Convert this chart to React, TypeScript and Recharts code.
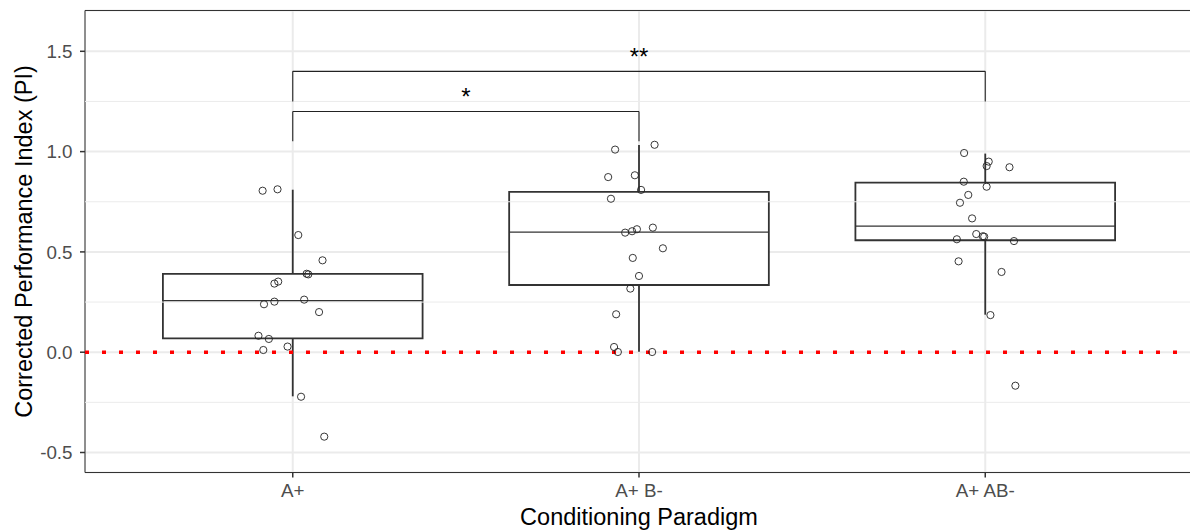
import React from 'react';
import {
  ComposedChart,
  XAxis,
  YAxis,
  CartesianGrid,
  Scatter,
  ReferenceArea,
  ReferenceLine,
  ReferenceDot,
} from 'recharts';

// ---------- data ----------
const categories = ['A+', 'A+ B-', 'A+ AB-'];
const categoryPos = [1, 2, 3];

// jittered points (x position, corrected PI)
const aPlusX = [0.913, 0.956, 1.016, 1.086, 1.04, 1.045, 0.947, 0.958, 0.917, 0.947, 1.033, 1.076, 0.901, 0.931, 0.915, 0.985, 1.024, 1.091];
const aPlusY = [0.805, 0.812, 0.584, 0.458, 0.391, 0.388, 0.342, 0.352, 0.239, 0.252, 0.262, 0.2, 0.082, 0.066, 0.011, 0.028, -0.222, -0.421];

const aPlusBMinusX = [1.931, 2.045, 1.911, 1.988, 2.006, 1.919, 1.96, 1.98, 1.994, 2.04, 2.069, 1.982, 2.0, 1.975, 1.934, 1.928, 1.939, 2.038];
const aPlusBMinusY = [1.01, 1.034, 0.873, 0.882, 0.809, 0.765, 0.596, 0.603, 0.613, 0.621, 0.518, 0.47, 0.38, 0.317, 0.189, 0.026, 0.001, 0.001];

const aPlusABMinusX = [2.939, 3.01, 3.004, 3.07, 2.938, 3.004, 2.951, 2.927, 2.962, 2.974, 2.993, 2.997, 2.918, 3.083, 2.923, 3.047, 3.015, 3.087];
const aPlusABMinusY = [0.993, 0.95, 0.928, 0.922, 0.85, 0.825, 0.784, 0.745, 0.667, 0.589, 0.578, 0.576, 0.563, 0.554, 0.453, 0.4, 0.185, -0.167];

// box statistics per category
const whiskerLow = [-0.22, 0.002, 0.187];
const quartile1 = [0.069, 0.335, 0.558];
const medians = [0.257, 0.599, 0.628];
const quartile3 = [0.39, 0.799, 0.845];
const whiskerHigh = [0.81, 1.033, 0.99];
const boxHalfWidth = 0.375;

// significance brackets
const bracketStart = [1, 1];
const bracketEnd = [2, 3];
const bracketLegLow = [1.052, 1.25];
const bracketTop = [1.2, 1.4];
const bracketLabel = ['*', '**'];
const bracketLabelY = [1.273, 1.472];

// axes
const yTicks = [-0.5, 0, 0.5, 1, 1.5];
const yMinorTicks = [-0.25, 0.25, 0.75, 1.25];
const yDomain: [number, number] = [-0.5997, 1.7034];
const xDomain: [number, number] = [0.4, 3.6];

const points = [
  ...aPlusX.map((x, i) => ({ x, y: aPlusY[i] })),
  ...aPlusBMinusX.map((x, i) => ({ x, y: aPlusBMinusY[i] })),
  ...aPlusABMinusX.map((x, i) => ({ x, y: aPlusABMinusY[i] })),
];

const BOX = '#333333';
const FONT = '"Liberation Sans", Arial, Helvetica, sans-serif';

const OpenCircle = (p: any) => (
  <circle cx={p.cx} cy={p.cy} r={3.6} fill="none" stroke="#222222" strokeWidth={0.9} />
);

const YTitle = (props: any) => {
  const vb = props.viewBox || { x: 0, y: 0, width: 0, height: 0 };
  const cx = vb.x + 31.5;
  const cy = vb.y + vb.height / 2;
  return (
    <text
      x={cx}
      y={cy}
      transform={`rotate(-90, ${cx}, ${cy})`}
      textAnchor="middle"
      fontSize={23.5}
      fill="#000000"
      fontFamily={FONT}
    >
      Corrected Performance Index (PI)
    </text>
  );
};

const XTitle = (props: any) => {
  const vb = props.viewBox || { x: 0, y: 0, width: 0, height: 0 };
  return (
    <text
      x={vb.x + vb.width / 2}
      y={vb.y + 52.5}
      textAnchor="middle"
      fontSize={23.5}
      fill="#000000"
      fontFamily={FONT}
    >
      Conditioning Paradigm
    </text>
  );
};

export default function App() {
  return (
    <div
      style={{
        position: 'absolute',
        left: 0,
        top: 0,
        width: 1190,
        height: 532,
        overflow: 'hidden',
        background: '#ffffff',
        fontFamily: FONT,
      }}
    >
      <ComposedChart
        width={1200}
        height={532}
        margin={{ top: 10.5, right: 7, bottom: 0, left: 0 }}
      >
        <CartesianGrid stroke="#EBEBEB" strokeWidth={2} />
        <XAxis
          type="number"
          dataKey="x"
          domain={xDomain}
          allowDataOverflow
          ticks={categoryPos}
          tickFormatter={(v: number) => categories[categoryPos.indexOf(v)] ?? ''}
          height={59.5}
          axisLine={false}
          tickLine={{ stroke: BOX, strokeWidth: 1.5 }}
          tickSize={5}
          tickMargin={6.5}
          tick={{ fill: '#4D4D4D', fontSize: 18.8, fontFamily: FONT }}
          label={XTitle}
        />
        <YAxis
          type="number"
          dataKey="y"
          domain={yDomain}
          allowDataOverflow
          ticks={yTicks}
          tickFormatter={(v: number) => v.toFixed(1)}
          width={85}
          axisLine={false}
          tickLine={{ stroke: BOX, strokeWidth: 1.5 }}
          tickSize={5}
          tickMargin={7.5}
          tick={{ fill: '#4D4D4D', fontSize: 18.8, fontFamily: FONT }}
          label={YTitle}
        />

        {yMinorTicks.map((v) => (
          <ReferenceLine key={`minor-${v}`} y={v} stroke="#EBEBEB" strokeWidth={1} />
        ))}

        {categoryPos.map((c, i) => (
          <ReferenceLine
            key={`wlo-${c}`}
            segment={[{ x: c, y: whiskerLow[i] }, { x: c, y: quartile1[i] }]}
            stroke={BOX}
            strokeWidth={1.8}
          />
        ))}
        {categoryPos.map((c, i) => (
          <ReferenceLine
            key={`whi-${c}`}
            segment={[{ x: c, y: quartile3[i] }, { x: c, y: whiskerHigh[i] }]}
            stroke={BOX}
            strokeWidth={1.8}
          />
        ))}
        {categoryPos.map((c, i) => (
          <ReferenceArea
            key={`box-${c}`}
            x1={c - boxHalfWidth}
            x2={c + boxHalfWidth}
            y1={quartile1[i]}
            y2={quartile3[i]}
            fill="#ffffff"
            fillOpacity={1}
            stroke={BOX}
            strokeWidth={1.8}
          />
        ))}
        {categoryPos.map((c, i) => (
          <ReferenceLine
            key={`med-${c}`}
            segment={[{ x: c - boxHalfWidth, y: medians[i] }, { x: c + boxHalfWidth, y: medians[i] }]}
            stroke={BOX}
            strokeWidth={1.3}
          />
        ))}

        <ReferenceLine y={0} stroke="#FF0000" strokeWidth={3.5} strokeDasharray="4 13" />

        {bracketStart.map((s, i) => (
          <ReferenceLine
            key={`bl-${i}`}
            segment={[{ x: s, y: bracketLegLow[i] }, { x: s, y: bracketTop[i] }]}
            stroke="#222222"
            strokeWidth={1.1}
          />
        ))}
        {bracketStart.map((s, i) => (
          <ReferenceLine
            key={`bt-${i}`}
            segment={[{ x: s, y: bracketTop[i] }, { x: bracketEnd[i], y: bracketTop[i] }]}
            stroke="#222222"
            strokeWidth={1.1}
          />
        ))}
        {bracketEnd.map((e, i) => (
          <ReferenceLine
            key={`br-${i}`}
            segment={[{ x: e, y: bracketTop[i] }, { x: e, y: bracketLegLow[i] }]}
            stroke="#222222"
            strokeWidth={1.1}
          />
        ))}
        {bracketStart.map((s, i) => (
          <ReferenceDot
            key={`lab-${i}`}
            x={(s + bracketEnd[i]) / 2}
            y={bracketLabelY[i]}
            r={0}
            fill="none"
            stroke="none"
            label={{ value: bracketLabel[i], position: 'center', fontSize: 24, fill: '#000000', fontFamily: FONT }}
          />
        ))}

        <Scatter data={points} shape={OpenCircle} isAnimationActive={false} />

        <ReferenceArea
          x1={xDomain[0]}
          x2={xDomain[1]}
          y1={yDomain[0]}
          y2={yDomain[1]}
          fill="none"
          stroke="#333333"
          strokeWidth={1}
        />
      </ComposedChart>
    </div>
  );
}
